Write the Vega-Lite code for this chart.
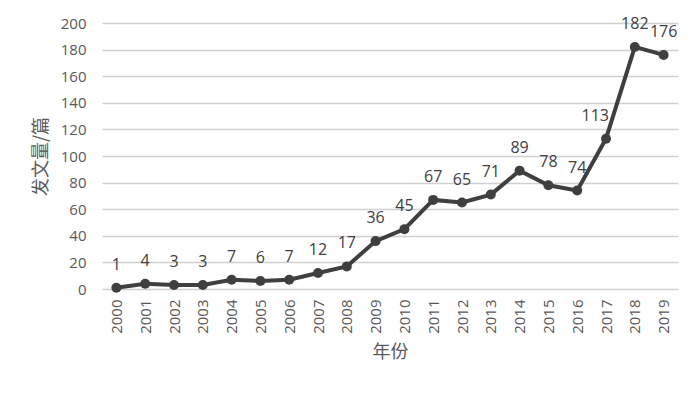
{
  "$schema": "https://vega.github.io/schema/vega-lite/v6.json",
  "width": 576,
  "height": 266,
  "autosize": {"type": "none"},
  "padding": {"left": 102, "top": 23, "right": 22, "bottom": 106},
  "background": "white",
  "config": {
    "view": {"stroke": null},
    "font": "Open Sans"
  },
  "data": {
    "values": [
      {"year": "2000", "count": 1},
      {"year": "2001", "count": 4},
      {"year": "2002", "count": 3},
      {"year": "2003", "count": 3},
      {"year": "2004", "count": 7},
      {"year": "2005", "count": 6},
      {"year": "2006", "count": 7},
      {"year": "2007", "count": 12},
      {"year": "2008", "count": 17},
      {"year": "2009", "count": 36},
      {"year": "2010", "count": 45},
      {"year": "2011", "count": 67},
      {"year": "2012", "count": 65},
      {"year": "2013", "count": 71},
      {"year": "2014", "count": 89},
      {"year": "2015", "count": 78},
      {"year": "2016", "count": 74},
      {"year": "2017", "count": 113},
      {"year": "2018", "count": 182},
      {"year": "2019", "count": 176}
    ]
  },
  "encoding": {
    "x": {
      "field": "year",
      "type": "ordinal",
      "scale": {"paddingInner": 0, "paddingOuter": 0},
      "axis": {
        "title": "年份",
        "titleFont": "Noto Sans CJK SC",
        "titleFontSize": 18,
        "titleFontWeight": "normal",
        "titleColor": "#595959",
        "titlePadding": 10,
        "labelAngle": -90,
        "labelFontSize": 15,
        "labelColor": "#595959",
        "labelPadding": 10,
        "domain": false,
        "ticks": false,
        "grid": false
      }
    },
    "y": {
      "field": "count",
      "type": "quantitative",
      "scale": {"domain": [0, 200]},
      "axis": {
        "title": "发文量/篇",
        "titleFont": "Noto Sans CJK SC",
        "titleFontSize": 18,
        "titleFontWeight": "normal",
        "titleColor": "#595959",
        "titlePadding": 10,
        "values": [0, 20, 40, 60, 80, 100, 120, 140, 160, 180, 200],
        "labelFontSize": 15,
        "labelColor": "#595959",
        "labelPadding": 16,
        "domain": false,
        "ticks": false,
        "grid": true,
        "gridColor": "#d0d0d0",
        "gridWidth": 1.5
      }
    }
  },
  "layer": [
    {
      "mark": {"type": "line", "color": "#3f3f3f", "strokeWidth": 4},
      "encoding": {}
    },
    {
      "mark": {"type": "point", "filled": true, "color": "#3f3f3f", "size": 100, "opacity": 1},
      "encoding": {}
    },
    {
      "transform": [{"filter": "datum.year != '2017'"}],
      "mark": {"type": "text", "color": "#404040", "fontSize": 16, "baseline": "alphabetic", "dy": -18},
      "encoding": {"text": {"field": "count", "type": "quantitative"}}
    },
    {
      "transform": [{"filter": "datum.year == '2017'"}],
      "mark": {"type": "text", "color": "#404040", "fontSize": 16, "baseline": "alphabetic", "align": "right", "dx": 3, "dy": -18},
      "encoding": {"text": {"field": "count", "type": "quantitative"}}
    }
  ]
}
